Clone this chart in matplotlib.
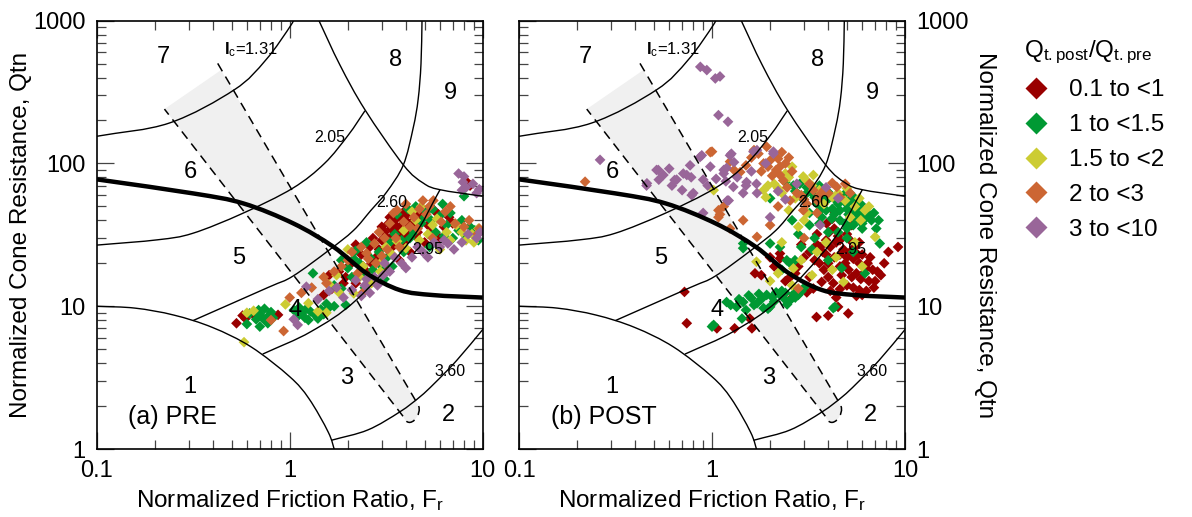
import numpy as np
import matplotlib
matplotlib.use("Agg")
import matplotlib.pyplot as plt
from matplotlib.path import Path
from matplotlib.patches import PathPatch
from matplotlib.lines import Line2D
from matplotlib.ticker import FixedLocator, FixedFormatter, LogLocator, NullFormatter

plt.rcParams['font.family'] = ['Liberation Sans', 'DejaVu Sans']
plt.rcParams['mathtext.fontset'] = 'custom'
plt.rcParams['mathtext.rm'] = 'Liberation Sans'
plt.rcParams['mathtext.it'] = 'Liberation Sans:italic'
plt.rcParams['mathtext.bf'] = 'Liberation Sans:bold'

# ---------------------------------------------------------------- axes ticks
x_ticks = [0.1, 1, 10]
x_tick_labels = ["0.1", "1", "10"]
y_ticks = [1, 10, 100, 1000]
y_tick_labels = ["1", "10", "100", "1000"]

# ------------------------------------------------- SBT chart boundaries (F, Q)
zone1_F = [0.1, 0.158, 0.251, 0.398, 0.631, 1.0, 1.259, 1.585, 1.72]
zone1_Q = [10.0, 9.7, 8.67, 7.10, 5.19, 3.21, 2.25, 1.31, 0.95]

ic360_F = [1.64, 2.54, 3.72, 4.73, 5.62, 7.33, 10.3]
ic360_Q = [1.15, 1.36, 1.82, 2.32, 2.88, 4.17, 7.2]

ic295_F = [0.724, 1.288, 2.208, 4.246, 6.01]
ic295_Q = [4.62, 6.64, 11.04, 29.1, 65.5]

ic260_F = [0.316, 0.769, 1.035, 1.585, 2.138, 2.63, 3.18, 3.88, 4.365, 4.63, 4.79, 4.85]
ic260_Q = [7.94, 13.5, 16.2, 24.5, 33.9, 46.8, 63.1, 97.7, 177.8, 281.8, 501, 1047]

ic205_F = [0.1, 0.207, 0.314, 0.570, 1.035, 1.514, 2.014, 2.455]
ic205_Q = [26.8, 29.2, 32.4, 44.7, 67.0, 100, 158.5, 234]

ic131_F = [0.1, 0.238, 0.516, 0.753, 1.016, 1.047]
ic131_Q = [155, 192, 328, 532, 933, 1047]

zone8_F = [1.396, 1.82, 2.455, 3.88, 4.92, 6.01, 10.0]
zone8_Q = [1047, 490, 237.7, 97.7, 72.9, 65.5, 58.9]

cd70_F = [0.1, 0.316, 0.575, 1.045, 1.683, 2.506, 3.724, 5.546, 10.0]
cd70_Q = [77.4, 61.7, 52.5, 38.0, 26.1, 17.0, 12.97, 11.97, 11.5]

# shaded transition band: upper corners, lower ends and tip controls
band_left_top = (0.2244, 240.4)
band_left_bot = (3.882, 1.683)
band_right_top = (0.4236, 502.3)
band_right_fill_top = (0.4406, 450.8)
band_right_bot = (4.634, 2.032)
band_tip_c1 = (4.909, 1.770)
band_tip_c2 = (4.169, 1.324)

# ------------------------------------------------------------ measured data
group_labels = ["0.1 to <1", "1 to <1.5", "1.5 to <2", "2 to <3", "3 to <10"]
group_colors = ["#990000", "#009933", "#cccc33", "#cc6633", "#996699"]

pre_red = [(0.53, 7.6), (0.57, 8.6), (0.59, 8.2), (0.64, 8.9), (0.87, 8.7), (1.5, 12.0),
           (1.6, 16.5), (1.65, 13.2), (1.8, 17.5), (1.9, 14.5), (2.05, 19.5), (2.2, 14.5),
           (2.35, 23), (2.5, 17.5), (2.6, 26), (2.8, 22), (3.0, 29), (3.1, 19.5), (3.2, 30),
           (3.35, 35), (3.5, 27), (3.5, 40), (3.65, 32), (3.8, 37), (3.9, 28), (4.0, 43),
           (4.1, 34), (4.3, 39), (4.5, 31), (4.7, 45), (3.3, 25), (4.2, 24), (3.7, 21),
           (3.0, 36), (3.3, 42), (3.9, 46), (4.4, 36), (3.6, 36), (5.2, 37), (5.6, 47),
           (6.0, 30), (5.0, 28), (8.3, 74), (6.7, 42), (2.7, 30), (2.2, 27),
           (3.1, 33), (3.25, 38), (3.4, 31), (3.55, 43), (3.7, 29), (3.85, 41), (4.0, 31),
           (4.15, 37), (4.35, 44), (4.5, 38), (4.6, 33), (3.45, 35), (3.75, 34), (4.05, 39),
           (3.95, 25), (3.2, 27), (2.9, 25), (4.8, 41), (5.4, 33), (6.3, 36), (7.0, 38),
           (2.4, 19), (1.95, 16), (2.65, 20), (8.6, 70), (5.9, 44)]
pre_green = [(0.6, 7.5), (0.67, 8.1), (0.7, 8.8), (0.72, 8.3), (0.75, 7.9), (0.78, 8.6),
             (0.8, 9.1), (0.77, 7.6), (0.69, 9.4), (0.74, 9.6), (1.05, 9.4), (1.1, 8.5),
             (1.15, 9.0), (1.2, 8.3), (1.22, 9.6), (1.25, 8.0), (1.32, 17), (1.35, 8.7),
             (1.45, 9.5), (1.5, 8.8), (1.6, 9.8), (1.7, 14), (1.7, 10), (1.95, 10.2),
             (2.1, 16), (2.3, 20), (2.45, 13.5), (2.7, 18), (2.9, 24), (3.1, 15.5),
             (2.2, 24.5), (3.3, 28), (3.6, 44), (3.9, 24), (4.2, 30), (4.5, 50), (4.8, 38),
             (3.4, 19), (5.1, 46), (5.4, 40), (5.7, 33), (6.0, 43), (6.5, 37), (7.0, 30),
             (7.5, 34), (8.2, 31), (9.1, 34), (5.3, 26), (8.0, 59), (6.2, 52), (2.5, 28),
             (1.85, 21), (0.62, 8.9), (0.82, 8.3), (0.7, 7.2), (1.12, 9.8), (1.28, 9.2),
             (1.4, 8.2), (1.55, 10.4), (1.85, 13.3), (2.0, 18.5), (2.35, 16.8), (2.6, 22),
             (3.2, 22), (3.5, 32), (3.8, 29), (4.1, 48), (4.4, 33), (5.0, 42), (5.5, 48),
             (6.8, 45), (7.8, 40), (8.6, 36), (9.5, 29), (6.3, 31), (3.0, 19), (2.15, 21.5)]
pre_yellow = [(0.6, 9.0), (0.65, 9.3), (0.58, 5.6), (0.95, 10.3), (1.25, 10.5), (1.4, 9.2),
              (1.75, 16.5), (1.8, 12.5), (2.15, 12.3), (2.4, 19), (2.65, 14.5), (2.95, 17.5),
              (3.15, 26), (3.4, 23), (3.9, 34), (4.3, 46), (4.7, 29), (4.8, 50), (5.5, 37),
              (6.0, 25), (6.8, 29), (7.8, 33), (8.8, 32), (9.5, 35), (5.2, 32), (2.0, 25),
              (1.55, 9.0), (2.3, 16), (3.0, 20.5), (3.6, 28.5), (4.0, 25.5), (4.5, 40),
              (5.8, 41), (6.5, 33), (7.3, 37), (8.2, 29), (9.0, 28), (1.6, 14.2)]
pre_orange = [(0.93, 6.7), (0.8, 8.0), (1.0, 11.5), (1.15, 12.4), (1.3, 13.5), (1.5, 16),
              (1.55, 14.5), (1.85, 19), (2.0, 21), (2.25, 17), (2.55, 21.5), (2.75, 27.5),
              (3.0, 22.5), (2.4, 12.5), (3.3, 38), (3.6, 47), (4.0, 52), (4.4, 42), (3.7, 26),
              (4.6, 35), (4.9, 55), (3.45, 45), (5.3, 50), (5.55, 55), (6.4, 46), (7.2, 38),
              (8.0, 36), (9.4, 32), (5.5, 30), (2.9, 33), (3.1, 30), (1.7, 17.5), (2.1, 24),
              (2.5, 23.5), (2.8, 20), (3.2, 25), (3.55, 30), (3.9, 39), (4.2, 36), (4.7, 48),
              (5.1, 44), (6.1, 39), (6.8, 50), (8.5, 40), (9.6, 35), (2.35, 26)]
pre_purple = [(1.1, 7.4), (1.05, 8.1), (1.22, 13.7), (1.4, 11.2), (1.6, 12.8), (1.9, 11.5),
              (2.1, 13), (2.35, 11.8), (2.6, 12.4), (2.85, 14), (3.05, 16.5), (2.5, 15.5),
              (3.3, 17.5), (3.8, 20), (4.3, 22), (4.6, 26), (4.9, 24), (5.2, 22), (6.0, 26),
              (6.6, 27.5), (7.1, 25), (7.8, 28), (9.3, 30), (7.5, 85), (7.9, 74), (8.2, 68),
              (8.9, 72), (9.3, 62), (7.8, 65), (9.6, 66), (1.75, 13.5), (2.2, 15.2),
              (2.75, 16), (3.5, 22), (4.0, 18.5), (5.6, 28), (6.3, 29), (8.4, 32), (9.7, 33),
              (2.45, 14), (3.1, 20), (8.0, 81)]

post_red = [(0.72, 12.6), (0.74, 7.6), (1.06, 7.0), (1.31, 7.0), (1.61, 7.0), (1.57, 8.2),
            (1.67, 17), (1.8, 16.5), (2.25, 21.6), (2.54, 16), (2.25, 23.4), (2.0, 22),
            (3.93, 38), (4.3, 46), (3.63, 26), (3.9, 23), (5.0, 22), (5.4, 21.5), (5.8, 20),
            (6.3, 18.5), (6.8, 18), (7.2, 17.5), (3.8, 18), (4.25, 14.5), (5.0, 14),
            (5.4, 13.5), (5.8, 13), (6.3, 12.8), (3.35, 13.3), (4.6, 29), (3.9, 29), (5.0, 32),
            (4.3, 35), (9.2, 26), (8.2, 24), (3.48, 8.4), (4.0, 8.6), (5.08, 8.9), (4.5, 9.9),
            (2.8, 19), (3.2, 16), (3.0, 22), (4.6, 19), (4.0, 16), (4.8, 25), (5.5, 26),
            (6.0, 23), (6.5, 15), (3.5, 32), (4.2, 41), (5.3, 37), (2.9, 27), (3.1, 12.5),
            (6.6, 22), (4.4, 11.5), (2.6, 11.5), (2.1, 19), (3.6, 20), (3.75, 24), (4.0, 20),
            (4.1, 26), (4.3, 22), (4.4, 28), (4.6, 23), (4.7, 16.5), (4.9, 20), (5.1, 18),
            (5.2, 24), (5.3, 16), (5.6, 17), (5.7, 23), (5.9, 15.5), (6.1, 17), (6.4, 20),
            (7.0, 15), (7.5, 16.5), (4.1, 12.8), (4.6, 13.2), (5.6, 11.8), (6.0, 12),
            (3.4, 21), (3.7, 14.8), (4.5, 31), (5.2, 29), (5.8, 28), (4.05, 33), (3.5, 27),
            (3.2, 24), (2.7, 17), (2.4, 15), (6.9, 13.5), (7.8, 20)]
post_green = [(1.0, 7.2), (1.02, 7.4), (1.19, 10.7), (1.34, 9.9), (1.45, 10.7), (1.43, 8.2),
              (1.71, 10.5), (1.92, 12.0), (1.95, 9.6), (2.0, 9.9), (2.25, 12), (2.3, 12.8),
              (2.54, 11), (2.8, 12), (1.6, 11.4), (1.8, 11.2), (2.1, 10.8), (2.4, 12.4),
              (1.45, 25.5), (2.0, 27.5), (1.45, 27.5), (2.44, 21), (2.69, 21), (2.54, 20),
              (2.64, 70), (2.85, 72), (3.1, 68), (3.63, 47), (4.6, 47), (4.99, 52), (5.4, 54),
              (5.85, 44), (6.3, 42), (6.7, 40), (7.1, 35), (7.4, 27.5), (5.4, 37), (4.17, 41),
              (3.93, 55), (3.5, 52), (4.4, 55), (2.0, 57), (6.2, 17), (4.33, 9.9), (2.25, 12.3),
              (4.25, 9.7), (3.3, 62), (3.8, 60), (4.8, 60), (5.1, 44), (5.7, 48), (4.6, 40),
              (3.2, 45), (2.9, 58), (3.6, 38), (4.0, 33), (5.0, 30), (6.0, 35), (3.3, 25),
              (2.8, 32), (2.25, 26), (4.2, 48), (4.5, 52), (4.7, 57), (5.0, 48), (5.2, 56),
              (5.5, 46), (5.6, 41), (5.9, 52), (6.1, 47), (6.5, 44), (6.9, 45), (4.9, 38),
              (4.3, 44), (3.7, 42), (3.4, 58), (3.1, 62), (2.7, 64), (2.4, 74), (3.6, 70),
              (4.0, 63), (5.3, 60), (7.3, 40), (6.0, 38), (5.0, 35), (4.5, 33), (3.9, 47),
              (1.25, 10.2), (1.5, 9.4), (1.55, 11.9), (1.65, 10.2), (1.75, 12.2), (1.85, 9.7),
              (2.05, 11.6), (2.15, 12.5), (2.35, 11.4), (2.45, 10.3), (2.65, 12.2),
              (2.7, 11.5), (1.38, 11.2), (2.9, 12.7), (3.0, 13.5), (2.3, 18), (2.9, 26),
              (3.4, 30), (4.0, 21), (4.7, 18.5), (5.4, 24), (3.2, 37), (2.6, 40)]
post_yellow = [(1.02, 65), (1.85, 65), (1.95, 70), (2.1, 72), (2.3, 62), (2.5, 47), (3.09, 76),
               (3.35, 83), (4.89, 55), (6.2, 47), (5.5, 50), (7.0, 30.6), (6.0, 19), (2.64, 18.4),
               (1.7, 20.5), (4.8, 14.8), (2.9, 21), (2.97, 81), (3.3, 70), (2.4, 85), (4.2, 58),
               (3.6, 65), (5.2, 42), (2.3, 28), (3.0, 40), (2.0, 15), (2.6, 14), (3.5, 24),
               (4.4, 22), (2.2, 67), (2.5, 80), (2.7, 57), (3.8, 52), (4.5, 62), (5.0, 67),
               (5.8, 57), (6.5, 50), (3.1, 45), (2.8, 36), (3.9, 28), (4.2, 18), (5.5, 28),
               (3.3, 16.5), (2.2, 17), (1.9, 58), (2.6, 95), (5.9, 40)]
post_orange = [(0.22, 74.5), (0.98, 120), (1.0, 121), (1.24, 103), (1.4, 87), (1.74, 117),
               (2.0, 105), (2.25, 95), (2.34, 76), (1.92, 131), (2.15, 90), (1.08, 47),
               (1.24, 35), (1.1, 44), (1.71, 30.6), (2.2, 50), (2.54, 55), (2.97, 47),
               (3.35, 65), (3.8, 65), (4.0, 62), (2.9, 60), (3.5, 55), (4.43, 68.5), (2.25, 83),
               (2.8, 13.3), (1.08, 42), (1.15, 50), (1.6, 110), (1.85, 100), (2.45, 68),
               (2.1, 118), (1.3, 90), (3.1, 52), (1.8, 88), (1.95, 95), (2.05, 82), (2.2, 108),
               (2.4, 100), (2.6, 88), (2.75, 62), (3.0, 56), (3.2, 72), (3.6, 60), (4.2, 73),
               (4.6, 58), (5.2, 62), (2.5, 110), (1.65, 124), (1.5, 97), (2.3, 120), (3.0, 30),
               (3.5, 45), (2.0, 37), (1.45, 40), (4.9, 72)]
post_purple = [(0.87, 475), (0.94, 451), (1.04, 394), (1.1, 407), (1.08, 218), (1.21, 196),
               (0.263, 106), (0.527, 90), (0.56, 83), (0.46, 72.6), (0.64, 76.6), (0.71, 85),
               (0.77, 97), (0.8, 62), (0.885, 114), (0.98, 95), (1.15, 85), (1.18, 75),
               (1.24, 114), (1.45, 62), (1.5, 70), (1.7, 72), (1.64, 121), (2.08, 121), (0.9, 45),
               (0.516, 90), (0.53, 77), (0.656, 77), (0.74, 83), (0.867, 111), (0.78, 80),
               (0.9, 77), (0.785, 60), (0.458, 70), (1.19, 93), (1.29, 68.5), (1.2, 55),
               (1.71, 124), (2.08, 117), (1.26, 117), (1.15, 90), (1.51, 74), (1.71, 62),
               (1.22, 55), (2.0, 42), (3.63, 37), (2.75, 72), (0.6, 92), (1.35, 80), (1.6, 88),
               (1.9, 100), (0.62, 70), (0.7, 65), (0.95, 70), (1.05, 78), (1.3, 102),
               (3.9, 68), (2.2, 64), (2.4, 56), (4.5, 57)]

pre_groups = [pre_red, pre_green, pre_yellow, pre_orange, pre_purple]
post_groups = [post_red, post_green, post_yellow, post_orange, post_purple]

# zone numbers and contour labels (F, Q)
zone_text = ["1", "2", "3", "4", "5", "6", "7", "8", "9"]
zone_F = [0.304, 6.64, 1.97, 1.06, 0.542, 0.304, 0.221, 3.52, 6.78]
zone_Q = [2.73, 1.73, 3.13, 9.4, 21.6, 87.5, 559, 530, 310]
ic_text = ["2.05", "2.60", "2.95", "3.60"]
ic_F = [1.62, 3.37, 5.22, 6.78]
ic_Q = [152, 53, 24.8, 3.48]


def smooth_curve(F, Q):
    """Catmull-Rom curve through the points in log space, as cubic Bezier segments."""
    pts = np.column_stack([np.log10(F), np.log10(Q)])
    P = np.vstack([2 * pts[0] - pts[1], pts, 2 * pts[-1] - pts[-2]])
    verts = [pts[0]]
    codes = [Path.MOVETO]
    for i in range(1, len(P) - 2):
        p0, p1, p2, p3 = P[i - 1], P[i], P[i + 1], P[i + 2]
        verts += [p1 + (p2 - p0) / 6.0, p2 - (p3 - p1) / 6.0, p2]
        codes += [Path.CURVE4] * 3
    return Path(10 ** np.array(verts), codes)


def band_paths():
    fill = Path([band_left_top, band_right_fill_top, band_right_bot,
                 band_tip_c1, band_tip_c2, band_left_bot, band_left_top],
                [Path.MOVETO, Path.LINETO, Path.LINETO,
                 Path.CURVE4, Path.CURVE4, Path.CURVE4, Path.CLOSEPOLY])
    edge = Path([band_right_top, band_right_bot, band_tip_c1, band_tip_c2,
                 band_left_bot, band_left_top],
                [Path.MOVETO, Path.LINETO, Path.CURVE4, Path.CURVE4,
                 Path.CURVE4, Path.LINETO])
    return fill, edge


def draw_chart(ax, groups, tag):
    ax.set_xscale('log')
    ax.set_yscale('log')
    ax.set_xlim(0.1, 10)
    ax.set_ylim(1, 1000)

    fill, edge = band_paths()
    ax.add_patch(PathPatch(fill, facecolor='#f0f0f0', edgecolor='none', zorder=1))
    ax.add_patch(PathPatch(edge, facecolor='none', edgecolor='black', lw=1.1,
                           linestyle=(0, (6, 4)), zorder=3))

    for pts, col in zip(groups, group_colors):
        arr = np.array(pts)
        ax.scatter(arr[:, 0], arr[:, 1], marker='D', s=30, c=col,
                   edgecolors='none', zorder=2)

    for F, Q in [(zone1_F, zone1_Q), (ic360_F, ic360_Q), (ic295_F, ic295_Q),
                 (ic260_F, ic260_Q), (ic205_F, ic205_Q), (ic131_F, ic131_Q),
                 (zone8_F, zone8_Q)]:
        ax.add_patch(PathPatch(smooth_curve(F, Q), facecolor='none',
                               edgecolor='black', lw=1.0, zorder=3))
    ax.add_patch(PathPatch(smooth_curve(cd70_F, cd70_Q), facecolor='none',
                           edgecolor='black', lw=3.2, zorder=3, capstyle='butt'))

    for t, f, q in zip(zone_text, zone_F, zone_Q):
        ax.text(f, q, t, fontsize=17, ha='center', va='center', zorder=4)
    for t, f, q in zip(ic_text, ic_F, ic_Q):
        ax.text(f, q, t, fontsize=11.5, ha='center', va='center', zorder=4)
    ax.text(0.33, 0.933, r'$\mathbf{I}_{\mathrm{c}}$=1.31', fontsize=12,
            transform=ax.transAxes, ha='left', va='center', zorder=4)
    ax.text(0.082, 0.075, tag, fontsize=18, transform=ax.transAxes,
            ha='left', va='center', zorder=4)

    ax.xaxis.set_major_locator(FixedLocator(x_ticks))
    ax.xaxis.set_major_formatter(FixedFormatter(x_tick_labels))
    ax.yaxis.set_major_locator(FixedLocator(y_ticks))
    ax.yaxis.set_major_formatter(FixedFormatter(y_tick_labels))
    ax.xaxis.set_minor_locator(LogLocator(base=10, subs=np.arange(2, 10), numticks=20))
    ax.yaxis.set_minor_locator(LogLocator(base=10, subs=np.arange(2, 10), numticks=20))
    ax.xaxis.set_minor_formatter(NullFormatter())
    ax.yaxis.set_minor_formatter(NullFormatter())
    ax.tick_params(which='both', direction='in', top=True, right=True,
                   color='#444444', labelsize=17, width=0.9)
    ax.tick_params(which='major', length=12, pad=8)
    ax.tick_params(which='minor', length=6.5)
    for sp in ax.spines.values():
        sp.set_linewidth(1.2)
    ax.set_xlabel(r'Normalized Friction Ratio, F$_{\mathregular{r}}$', fontsize=17.5, labelpad=4)


fig = plt.figure(figsize=(11.92, 5.17), dpi=100)
W, H = 1192.0, 517.0
ax_pre = fig.add_axes([96.7 / W, 68 / H, 386 / W, 428.3 / H])
ax_post = fig.add_axes([519 / W, 68 / H, 386 / W, 428.3 / H])

draw_chart(ax_pre, pre_groups, '(a) PRE')
draw_chart(ax_post, post_groups, '(b) POST')

ax_pre.set_ylabel('Normalized Cone Resistance, Qtn', fontsize=17.5, labelpad=1)
ax_post.tick_params(labelleft=False, labelright=True)
ax_post.yaxis.set_label_position('right')
ax_post.set_ylabel('Normalized Cone Resistance, Qtn', fontsize=17.5, rotation=270,
                   va='bottom', labelpad=4)

handles = [Line2D([], [], marker='D', ls='none', ms=11, mfc=c, mec='none')
           for c in group_colors]
fig.legend(handles, group_labels, loc='upper left', bbox_to_anchor=(1024 / W, 1 - 39 / H),
           frameon=False, fontsize=17.5, title=r'Q$_{\mathregular{t.post}}$/Q$_{\mathregular{t.pre}}$',
           title_fontsize=17.5, handlelength=1.0, handletextpad=0.85, labelspacing=0.53,
           alignment='left', borderpad=0, borderaxespad=0)

fig.savefig('out.png', dpi=100)
